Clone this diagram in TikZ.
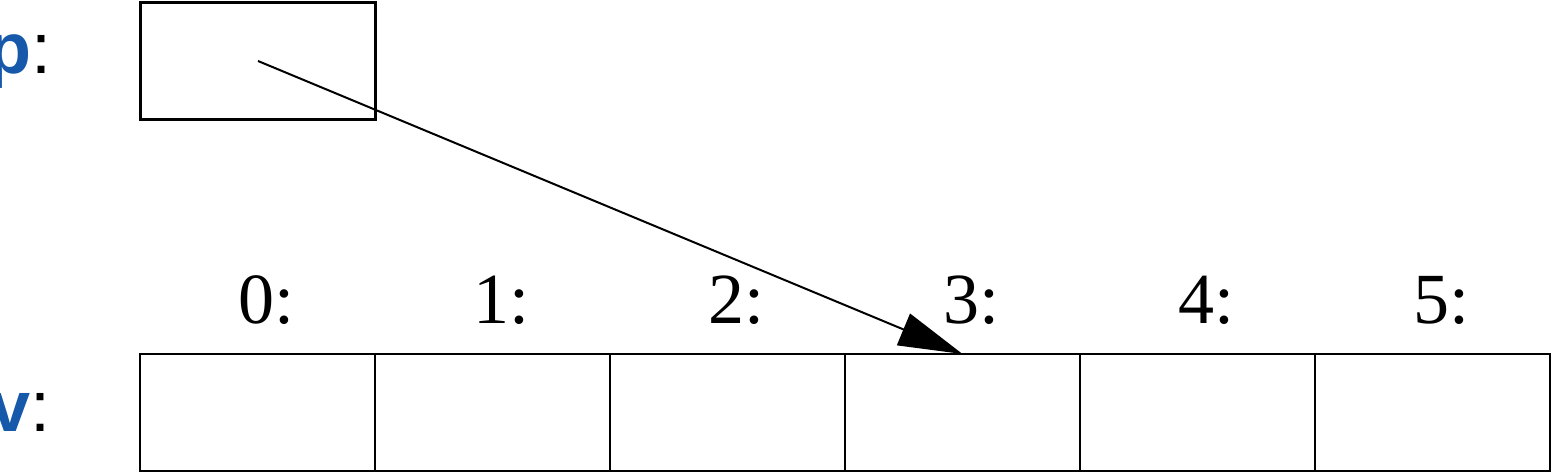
\documentclass[tikz,border=0pt]{standalone}
\usepackage{fontspec}
\setmainfont{Liberation Serif}
\newfontfamily\lblfont{Liberation Sans}
\usetikzlibrary{arrows.meta}
\definecolor{lblblue}{RGB}{22,88,170}
\begin{document}
\begin{tikzpicture}[x=0.5pt,y=-0.5pt,
  cellbox/.style={draw,line width=1.3pt,minimum width=117.5pt,minimum height=58.5pt,inner sep=0pt,outer sep=0pt},
  idxlbl/.style={font=\fontsize{36}{40}\selectfont,inner sep=0pt},
  varlbl/.style={font=\lblfont\fontsize{36}{40}\selectfont,inner sep=0pt,anchor=east},
  ptrarrow/.style={line width=1pt,-{Triangle[length=32pt,width=17pt]}}]
\useasboundingbox (0,0) rectangle (1551,474);
\node[cellbox] (pbox) at (258,61) {};
\foreach \i in {0,...,5} {
  \node[cellbox] (c\i) at ({257.5+235*\i},412.5) {};
  \node[idxlbl] (l\i) at ({266+235*\i},300) {\i:};
}
\node[varlbl] (pl) at (52,62) {\textcolor{lblblue}{\bfseries p}:};
\node[varlbl] (vl) at (51,412) {\textcolor{lblblue}{\bfseries v}:};
\draw[ptrarrow] (pbox.center) -- (c3.north);
\end{tikzpicture}
\end{document}
